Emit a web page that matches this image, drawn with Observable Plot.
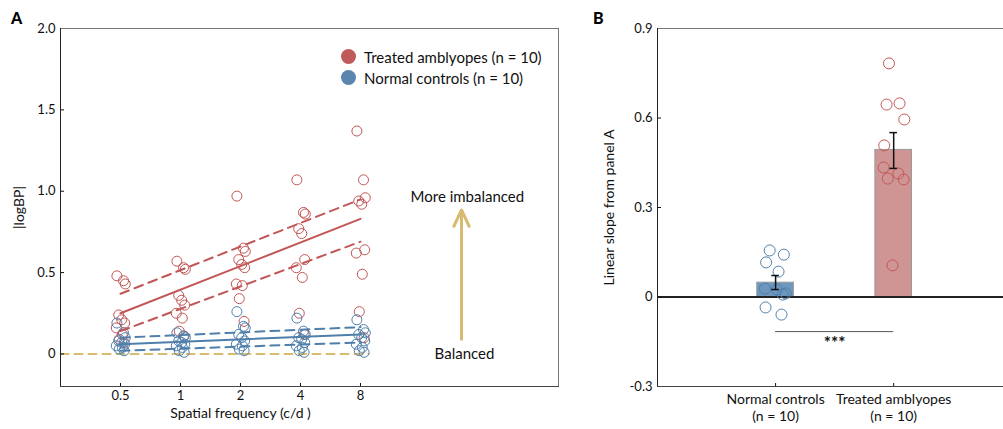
<!DOCTYPE html>
<html><head><meta charset="utf-8">
<script src="https://cdn.jsdelivr.net/npm/d3@7"></script>
<script src="https://cdn.jsdelivr.net/npm/@observablehq/plot@0.6"></script>
<style>
body{margin:0;background:#fff;font-family:Lato,"Noto Sans",sans-serif;overflow:hidden}
#wrap{position:relative;width:1003px;height:429px;overflow:hidden}
#a{position:absolute;left:0;top:0}
#b{position:absolute;left:580px;top:0}
.pl{position:absolute;font-weight:900;font-size:16px;color:#000}
.leg{position:absolute;left:341px;top:46px;font-size:15px;color:#111}
.leg div{display:flex;align-items:center;height:21px}
.leg span{display:inline-block;width:15px;height:15px;border-radius:50%;margin-right:8px}
</style></head>
<body><div id="wrap"><div id="a"></div><div id="b"></div>
<div class="pl" style="left:11px;top:8px">A</div>
<div class="pl" style="left:593px;top:8px">B</div>
<div class="leg"><div><span style="background:#c05a5a"></span>Treated amblyopes (n = 10)</div><div><span style="background:#5a86ae"></span>Normal controls (n = 10)</div></div>
</div>
<script>
// ---------- data: panel A ----------
const freqs = [0.5, 1, 2, 4, 8];
const freqLabels = ["0.5", "1", "2", "4", "8"];
const treated05 = [0.48, 0.45, 0.43, 0.24, 0.21, 0.19, 0.16, 0.12, 0.09, 0.07];
const treated1  = [0.57, 0.53, 0.52, 0.36, 0.33, 0.30, 0.25, 0.22, 0.14, 0.11];
const treated2  = [0.97, 0.65, 0.63, 0.58, 0.55, 0.53, 0.43, 0.42, 0.34, 0.20];
const treated4  = [1.07, 0.87, 0.86, 0.77, 0.74, 0.58, 0.53, 0.47, 0.25, 0.12];
const treated8  = [1.37, 1.07, 0.96, 0.94, 0.92, 0.64, 0.62, 0.49, 0.26, 0.10];
const normal05 = [0.19, 0.13, 0.10, 0.08, 0.07, 0.06, 0.05, 0.04, 0.03, 0.02];
const normal1  = [0.13, 0.11, 0.10, 0.08, 0.07, 0.06, 0.05, 0.04, 0.02, 0.01];
const normal2  = [0.26, 0.17, 0.16, 0.12, 0.10, 0.08, 0.06, 0.05, 0.03, 0.02];
const normal4  = [0.22, 0.14, 0.12, 0.10, 0.09, 0.07, 0.05, 0.04, 0.02, 0.01];
const normal8  = [0.21, 0.15, 0.13, 0.12, 0.10, 0.08, 0.06, 0.04, 0.02, 0.01];
const jitterA = [-0.06, 0.05, 0.08, -0.03, 0.02, 0.07, -0.07, 0.03, -0.02, 0.06]; // octaves
// fit lines at 0.5 and 8 c/d
const fitFreq = [0.5, 8];
const treatedFit = [0.25, 0.83], treatedUpper = [0.37, 0.95], treatedLower = [0.14, 0.69];
const normalFit = [0.06, 0.12], normalUpper = [0.10, 0.165], normalLower = [0.02, 0.07];
const baselineFreq = [0.25, 8.8];
const yTicksA = [0, 0.5, 1, 1.5, 2];
// annotation
const arrowFreq = 25.7, arrowFrom = 0.09, arrowTo = 0.885;

// ---------- data: panel B ----------
const groups = ["Normal controls\n(n = 10)", "Treated amblyopes\n(n = 10)"];
const groupPos = [1, 2];
const means = [0.048, 0.493];
const errLo = [0.025, 0.431], errHi = [0.072, 0.551];
const slopesNormal  = [0.156, 0.142, 0.116, 0.085, 0.028, 0.025, 0.008, 0.012, -0.035, -0.059];
const slopesTreated = [0.783, 0.645, 0.649, 0.595, 0.508, 0.434, 0.414, 0.397, 0.394, 0.106];
const jitterNormal  = [-0.05, 0.07, -0.08, 0.025, -0.09, 0.01, 0.06, 0.085, -0.085, 0.05];
const jitterTreated = [-0.04, -0.06, 0.05, 0.09, -0.08, -0.085, 0.04, -0.05, 0.085, -0.01];
const yTicksB = [-0.3, 0, 0.3, 0.6, 0.9];
const sigY = -0.116;

// ---------- styles ----------
const red = "#c25656", blue = "#4f7fab", gold = "#d6bb70";
const font = {fontFamily: "Lato, 'Noto Sans', sans-serif", fontSize: "13px", color: "#111", background: "#fff"};

function pts(arrs, grp) {
  const out = [];
  arrs.forEach((a, k) => a.forEach((v, i) => out.push({f: freqs[k] * Math.pow(2, jitterA[i]), v, grp})));
  return out;
}
const tPts = pts([treated05, treated1, treated2, treated4, treated8], "t");
const nPts = pts([normal05, normal1, normal2, normal4, normal8], "n");
function fitRows(vals, id) { return fitFreq.map((f, i) => ({f, v: vals[i], id})); }

const fmtA = d => d === 0 ? "0" : d.toFixed(1);

const A = Plot.plot({
  width: 580, height: 429,
  marginLeft: 60, marginRight: 22, marginTop: 28, marginBottom: 43,
  style: font,
  x: {type: "log", base: 2, domain: [0.25, Math.pow(2, 6.3)]},
  y: {domain: [-0.2, 2.0]},
  marks: [
    Plot.line(baselineFreq.map(f => ({f, v: 0})), {x: "f", y: "v", stroke: gold, strokeWidth: 2, strokeDasharray: "8,6"}),
    Plot.dot(tPts, {x: "f", y: "v", r: 5, stroke: red, strokeWidth: 1, fill: "none"}),
    Plot.dot(nPts, {x: "f", y: "v", r: 5, stroke: blue, strokeWidth: 1, fill: "none"}),
    Plot.line(fitRows(treatedFit, "a"), {x: "f", y: "v", stroke: red, strokeWidth: 2}),
    Plot.line([...fitRows(treatedUpper, "u"), ...fitRows(treatedLower, "l")], {x: "f", y: "v", z: "id", stroke: red, strokeWidth: 2, strokeDasharray: "9,6"}),
    Plot.line(fitRows(normalFit, "a"), {x: "f", y: "v", stroke: blue, strokeWidth: 2}),
    Plot.line([...fitRows(normalUpper, "u"), ...fitRows(normalLower, "l")], {x: "f", y: "v", z: "id", stroke: blue, strokeWidth: 2, strokeDasharray: "9,6"}),
    Plot.arrow([{x: arrowFreq, y1: arrowFrom, y2: arrowTo}], {x1: "x", x2: "x", y1: "y1", y2: "y2", stroke: gold, strokeWidth: 3, headLength: 9, headAngle: 50}),
    Plot.text(["More imbalanced"], {x: arrowFreq * 1.07, y: 0.966, text: d => d, fontSize: 15, fill: "#111"}),
    Plot.text(["Balanced"], {x: arrowFreq * 1.035, y: 0.0, text: d => d, fontSize: 15, fill: "#111"}),
    Plot.text(["Spatial frequency (c/d )"], {x: 2, frameAnchor: "bottom", dy: 31, text: d => d, fontSize: 14, fill: "#111"}),
    Plot.axisX({ticks: freqs, tickFormat: d => freqLabels[freqs.indexOf(d)], tickSize: -3, tickPadding: 7, label: null, fontSize: 13}),
    Plot.axisY({ticks: yTicksA, tickFormat: fmtA, tickSize: -4, tickPadding: 9, label: "|logBP|", labelAnchor: "center", labelArrow: "none", labelOffset: 46, fontSize: 13}),
    Plot.frame({anchor: "top", stroke: "#777"}),
    Plot.frame({anchor: "right", stroke: "#777"}),
    Plot.frame({anchor: "left", stroke: "#222"}),
    Plot.frame({anchor: "bottom", stroke: "#444"})
  ]
});
document.getElementById("a").append(A);

const bars = groupPos.map((p, i) => ({x1: p - 0.155, x2: p + 0.155, y: means[i], g: i}));
const errs = groupPos.map((p, i) => ({x: p, lo: errLo[i], hi: errHi[i]}));
const bPts = [
  ...slopesNormal.map((v, i) => ({x: groupPos[0] + jitterNormal[i], v, g: 0})),
  ...slopesTreated.map((v, i) => ({x: groupPos[1] + jitterTreated[i], v, g: 1}))
];
const fmtB = d => d === 0 ? "0" : d.toFixed(1);

const B = Plot.plot({
  width: 423, height: 429,
  marginLeft: 77, marginRight: 0, marginTop: 28, marginBottom: 43,
  style: font,
  x: {domain: [0, 2.93]},
  y: {domain: [-0.3, 0.9]},
  marks: [
    Plot.rectY(bars, {x1: "x1", x2: "x2", y1: 0, y2: "y", fill: d => d.g === 0 ? "#6e97bd" : "#cf9595", stroke: "#9a9a9a", strokeWidth: 1}),
    Plot.ruleY([0], {stroke: "#222", strokeWidth: 2.2}),
    Plot.dot(bPts, {x: "x", y: "v", r: 5.5, stroke: d => d.g === 0 ? blue : red, strokeWidth: 1, fill: "none"}),
    Plot.ruleX(errs, {x: "x", y1: "lo", y2: "hi", stroke: "#111", strokeWidth: 1.5}),
    Plot.ruleY(errs, {x1: d => d.x - 0.032, x2: d => d.x + 0.032, y: "lo", stroke: "#111", strokeWidth: 1.5}),
    Plot.ruleY(errs, {x1: d => d.x - 0.032, x2: d => d.x + 0.032, y: "hi", stroke: "#111", strokeWidth: 1.5}),
    Plot.ruleY([sigY], {x1: groupPos[0], x2: groupPos[1], stroke: "#555", strokeWidth: 1}),
    Plot.text(["***"], {x: (groupPos[0] + groupPos[1]) / 2, y: sigY, dy: 12, text: d => d, fontSize: 17, fontWeight: "bold", fill: "#111"}),
    Plot.axisX({ticks: groupPos, tickFormat: d => groups[groupPos.indexOf(d)], tickSize: -3, tickPadding: 9, label: null, fontSize: 14, lineHeight: 1.2}),
    Plot.axisY({ticks: yTicksB, tickFormat: fmtB, tickSize: -4, tickPadding: 9, label: "Linear slope from panel A", labelAnchor: "center", labelArrow: "none", labelOffset: 53, fontSize: 13}),
    Plot.frame({anchor: "top", stroke: "#777"}),
    Plot.frame({anchor: "left", stroke: "#222"}),
    Plot.frame({anchor: "bottom", stroke: "#444"})
  ]
});
B.querySelectorAll("g[aria-label='y-axis label'] text").forEach(t => t.setAttribute("font-size", "14"));
A.querySelectorAll("g[aria-label='y-axis label'] text").forEach(t => t.setAttribute("font-size", "14"));
document.getElementById("b").append(B);
</script></body></html>
